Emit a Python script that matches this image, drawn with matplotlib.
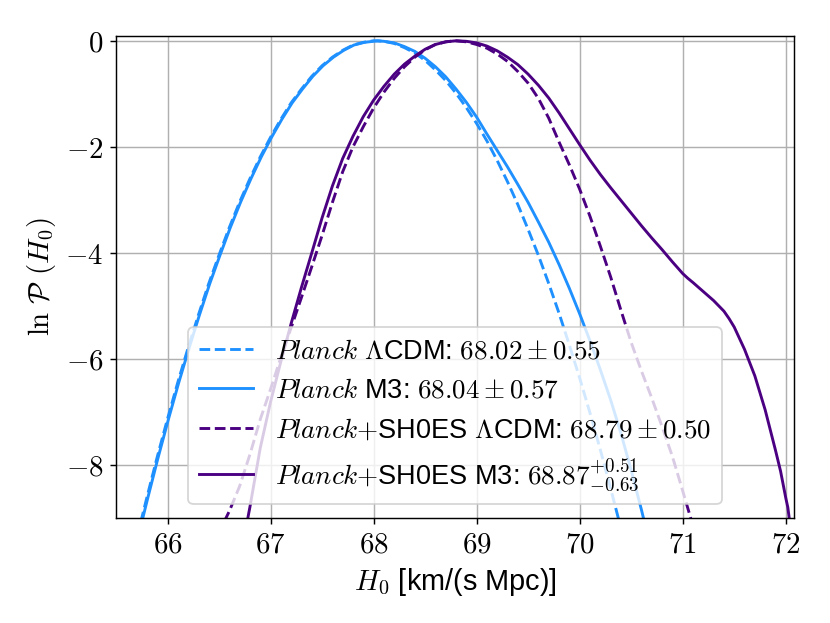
import matplotlib
matplotlib.use("Agg")
import matplotlib.pyplot as plt
from matplotlib.ticker import FuncFormatter

plt.rcParams["mathtext.fontset"] = "cm"
plt.rcParams["font.family"] = ["Liberation Sans", "DejaVu Sans"]
plt.rcParams["font.size"] = 16

# ln P(H0) curves
lcdm_x = [65.74, 65.8, 65.9, 66.0, 66.1, 66.2, 66.3, 66.4, 66.5, 66.6, 66.7, 66.8,
          66.9, 67.0, 67.1, 67.2, 67.3, 67.4, 67.5, 67.6, 67.7, 67.8, 67.9, 68.0,
          68.1, 68.2, 68.3, 68.4, 68.5, 68.6, 68.7, 68.8, 68.9, 69.0, 69.1, 69.2,
          69.3, 69.4, 69.5, 69.6, 69.7, 69.8, 69.9, 70.0, 70.1, 70.2, 70.3, 70.4]
lcdm_y = [-9.08, -8.61, -7.85, -7.13, -6.44, -5.79, -5.17, -4.58, -4.04, -3.52,
          -3.04, -2.60, -2.19, -1.82, -1.48, -1.17, -0.91, -0.67, -0.47, -0.31,
          -0.18, -0.08, -0.03, 0.0, -0.01, -0.05, -0.13, -0.23, -0.37, -0.55,
          -0.75, -0.99, -1.26, -1.56, -1.89, -2.26, -2.66, -3.09, -3.56, -4.05,
          -4.58, -5.14, -5.74, -6.36, -7.02, -7.71, -8.44, -9.19]

m3_x = [65.75, 65.81, 65.91, 66.01, 66.11, 66.21, 66.31, 66.41, 66.51, 66.61,
        66.71, 66.81, 66.91, 67.01, 67.11, 67.21, 67.31, 67.41, 67.51, 67.61,
        67.71, 67.81, 67.91, 68.04, 68.1, 68.2, 68.3, 68.4, 68.5, 68.6, 68.7,
        68.8, 68.9, 69.0, 69.1, 69.2, 69.3, 69.4, 69.5, 69.6, 69.7, 69.8, 69.9,
        70.0, 70.1, 70.2, 70.3, 70.4, 70.5, 70.6, 70.65]
m3_y = [-9.08, -8.61, -7.85, -7.13, -6.44, -5.79, -5.17, -4.58, -4.04, -3.52,
        -3.04, -2.60, -2.19, -1.82, -1.48, -1.17, -0.91, -0.67, -0.47, -0.31,
        -0.18, -0.08, -0.03, 0.0, -0.01, -0.04, -0.11, -0.20, -0.33, -0.49,
        -0.68, -0.91, -1.16, -1.44, -1.76, -2.07, -2.38, -2.71, -3.05, -3.42,
        -3.80, -4.22, -4.67, -5.15, -5.66, -6.20, -6.77, -7.40, -8.10, -8.85,
        -9.25]

sh_lcdm_x = [66.55, 66.6, 66.7, 66.8, 66.9, 67.0, 67.1, 67.2, 67.3, 67.4, 67.5,
             67.6, 67.7, 67.8, 67.9, 68.0, 68.1, 68.2, 68.3, 68.4, 68.5, 68.6,
             68.7, 68.79, 68.9, 69.0, 69.1, 69.2, 69.3, 69.4, 69.5, 69.6, 69.7,
             69.8, 69.9, 70.0, 70.1, 70.2, 70.3, 70.4, 70.5, 70.6, 70.7, 70.8,
             70.9, 71.0, 71.1]
sh_lcdm_y = [-9.07, -8.87, -8.40, -7.80, -7.14, -6.57, -5.97, -5.41, -4.84, -4.26,
             -3.67, -3.05, -2.47, -2.00, -1.62, -1.27, -0.97, -0.71, -0.49, -0.31,
             -0.17, -0.07, -0.02, 0.0, -0.02, -0.07, -0.14, -0.25, -0.39, -0.58,
             -0.80, -1.09, -1.46, -1.91, -2.34, -2.80, -3.31, -3.87, -4.45, -5.08,
             -5.69, -6.23, -6.74, -7.28, -7.84, -8.49, -9.15]

sh_m3_x = [66.76, 66.8, 66.9, 67.0, 67.1, 67.2, 67.3, 67.4, 67.5, 67.6, 67.7,
           67.8, 67.9, 68.0, 68.1, 68.2, 68.3, 68.4, 68.5, 68.6, 68.7, 68.8,
           68.9, 69.0, 69.1, 69.2, 69.3, 69.4, 69.5, 69.6, 69.7, 69.8, 69.9,
           70.0, 70.1, 70.2, 70.3, 70.4, 70.5, 70.6, 70.7, 70.8, 70.9, 71.0,
           71.05, 71.1, 71.2, 71.3, 71.4, 71.45, 71.5, 71.6, 71.7, 71.8, 71.9,
           71.95, 72.0, 72.02, 72.04]
sh_m3_y = [-9.20, -8.79, -7.68, -6.81, -6.05, -5.33, -4.65, -4.00, -3.34, -2.74,
           -2.22, -1.80, -1.43, -1.12, -0.86, -0.63, -0.44, -0.29, -0.16, -0.07,
           -0.02, 0.0, -0.01, -0.04, -0.10, -0.19, -0.31, -0.45, -0.63, -0.84,
           -1.08, -1.36, -1.66, -1.96, -2.25, -2.52, -2.77, -3.01, -3.25, -3.49,
           -3.72, -3.94, -4.17, -4.39, -4.48, -4.56, -4.73, -4.90, -5.10, -5.24,
           -5.40, -5.82, -6.32, -6.96, -7.72, -8.12, -8.62, -8.80, -9.10]

labels = [
    r"$Planck$ $\Lambda$CDM: $68.02 \pm 0.55$",
    r"$Planck$ M3: $68.04 \pm 0.57$",
    r"$Planck{+}$SH0ES $\Lambda$CDM: $68.79 \pm 0.50$",
    r"$Planck{+}$SH0ES M3: $68.87^{+0.51}_{-0.63}$",
]
blue = "dodgerblue"
purple = "indigo"

fig = plt.figure(figsize=(830 / 130, 623 / 130), dpi=130)
ax = fig.add_axes([116 / 830, 1 - 518 / 623, (794 - 116) / 830, (518 - 36) / 623])

ax.plot(lcdm_x, lcdm_y, "--", color=blue, lw=1.6, label=labels[0])
ax.plot(m3_x, m3_y, "-", color=blue, lw=1.6, label=labels[1])
ax.plot(sh_lcdm_x, sh_lcdm_y, "--", color=purple, lw=1.6, label=labels[2])
ax.plot(sh_m3_x, sh_m3_y, "-", color=purple, lw=1.6, label=labels[3])

ax.set_xlim(65.5, 72.08)
ax.set_ylim(-9.0, 0.09)
ax.set_xticks([66, 67, 68, 69, 70, 71, 72])
ax.set_yticks([0, -2, -4, -6, -8])
fmt = FuncFormatter(lambda v, p: rf"${v:g}$")
ax.xaxis.set_major_formatter(fmt)
ax.yaxis.set_major_formatter(fmt)
ax.grid(True)

ax.set_xlabel(r"$H_0$ [km/(s Mpc)]")
ax.set_ylabel(r"$\ln\,\mathcal{P}\ (H_0)$")
ax.legend(loc="lower center", fontsize=15)

fig.savefig("out.png", dpi=130)
